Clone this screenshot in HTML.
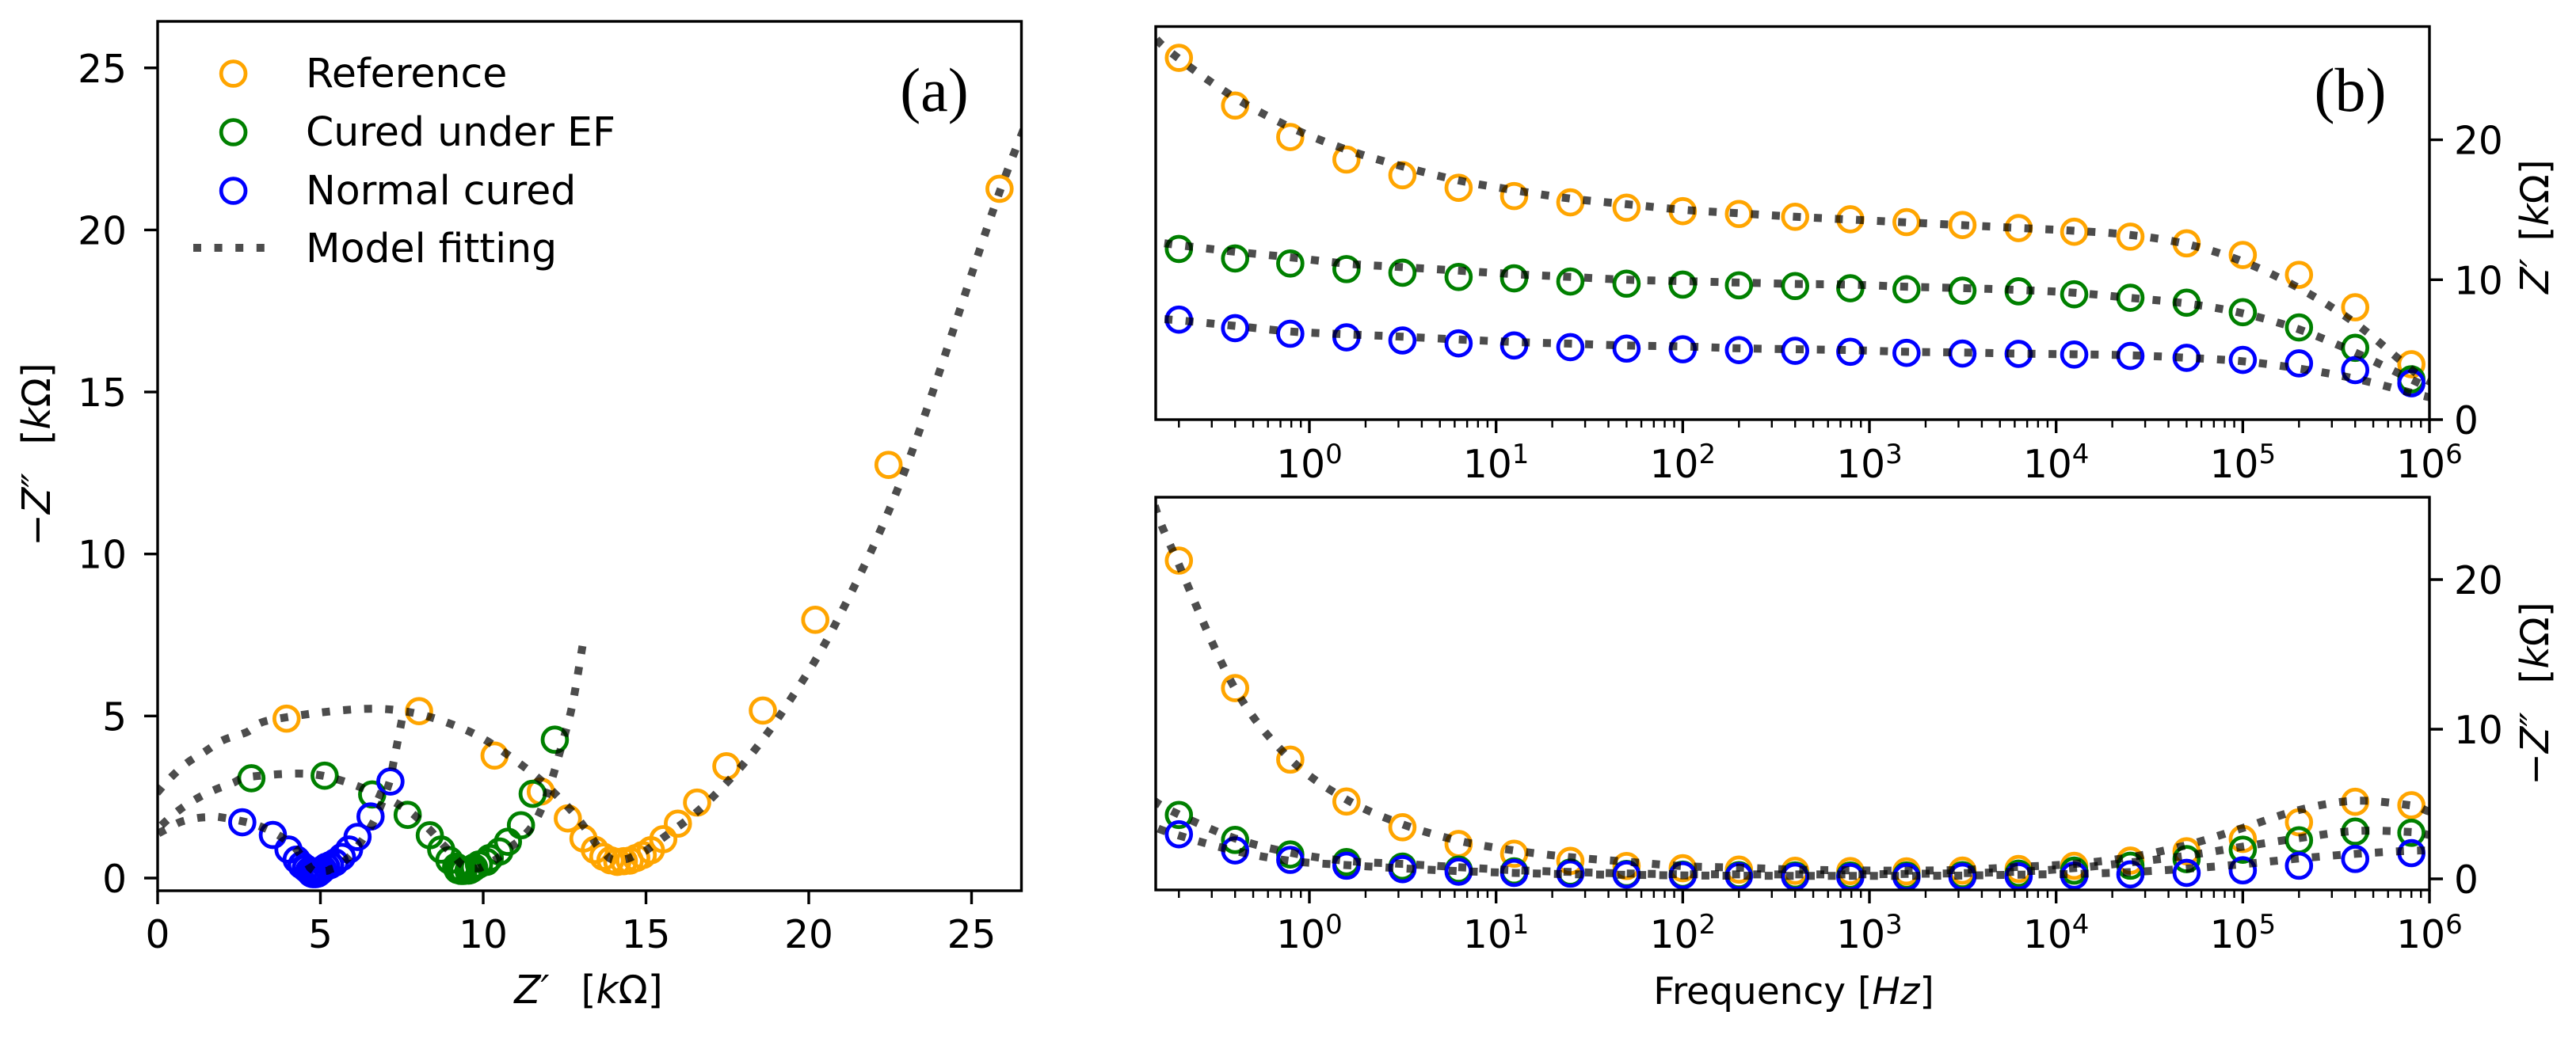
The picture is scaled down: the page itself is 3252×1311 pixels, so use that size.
<!DOCTYPE html>
<html lang="en">
<head>
<meta charset="utf-8">
<title>Impedance spectra: Nyquist and Bode plots</title>
<style>
html,body{margin:0;padding:0;background:#fff;}
svg{display:block;}
text{font-family:"DejaVu Sans","Liberation Sans",sans-serif;font-size:48.6px;fill:#000;}
#legend text{font-size:50.5px;}
</style>
</head>
<body>
<svg id="figure" xmlns="http://www.w3.org/2000/svg" width="3252" height="1311" viewBox="0 0 3252 1311">
<defs>
<clipPath id="clip-a"><rect x="199" y="27" width="1090.5" height="1098"/></clipPath>
<clipPath id="clip-b1"><rect x="1459" y="33.5" width="1608" height="496.5"/></clipPath>
<clipPath id="clip-b2"><rect x="1459" y="628" width="1608" height="496"/></clipPath>
</defs>
<g id="panel-a"></g>
<g id="panel-b1"></g>
<g id="panel-b2"></g>

<text x="743" y="1267" text-anchor="middle"><tspan font-style="italic">Z′</tspan><tspan dx="40">[</tspan><tspan font-style="italic">k</tspan>Ω]</text>
<text transform="translate(63,574) rotate(-90)" text-anchor="middle">−<tspan font-style="italic">Z″</tspan><tspan dx="36">[</tspan><tspan font-style="italic">k</tspan>Ω]</text>
<text transform="translate(3217,286) rotate(-90)" text-anchor="middle"><tspan font-style="italic">Z′</tspan><tspan dx="22">[</tspan><tspan font-style="italic">k</tspan>Ω]</text>
<text transform="translate(3217,876) rotate(-90)" text-anchor="middle">−<tspan font-style="italic">Z″</tspan><tspan dx="36">[</tspan><tspan font-style="italic">k</tspan>Ω]</text>
<text x="2264.5" y="1268" text-anchor="middle" style="font-size:47px">Frequency [<tspan font-style="italic">Hz</tspan>]</text>
<text x="1179.5" y="140" text-anchor="middle" style="font-family:'Liberation Serif',serif;font-size:78px">(a)</text>
<text x="2967" y="140" text-anchor="middle" style="font-family:'Liberation Serif',serif;font-size:78px">(b)</text>

<g id="legend">
<circle cx="294.6" cy="93" r="15.4" fill="none" stroke="orange" stroke-width="4.8"/>
<text x="386" y="110">Reference</text>
<circle cx="294.6" cy="167" r="15.4" fill="none" stroke="green" stroke-width="4.8"/>
<text x="386" y="184">Cured under EF</text>
<circle cx="294.6" cy="241" r="15.4" fill="none" stroke="blue" stroke-width="4.8"/>
<text x="386" y="258">Normal cured</text>
<line x1="244" y1="313" x2="336" y2="313" stroke="#000" stroke-opacity="0.7" stroke-width="10" stroke-dasharray="10 16.6"/>
<text x="386" y="331">Model fitting</text>
</g>
</svg>
<script>
// ---- measured data (k-ohm, Hz) ----
const freq = [0.2,0.4,0.79,1.58,3.15,6.3,12.5,25,50,100,200,400,790,1580,3150,6300,12500,25000,50000,100000,200000,400000,800000];

const refReal = [25.86,22.45,20.2,18.59,17.47,16.57,15.98,15.53,15.15,14.9,14.7,14.5,14.32,14.12,13.91,13.69,13.43,13.08,12.6,11.77,10.35,8.03,3.96];
const refImag = [21.27,12.75,7.97,5.17,3.45,2.33,1.68,1.2,0.86,0.71,0.62,0.54,0.52,0.5,0.55,0.66,0.87,1.22,1.84,2.67,3.78,5.15,4.92];

const efReal = [12.2,11.52,11.16,10.76,10.5,10.2,10.1,9.87,9.72,9.65,9.6,9.55,9.39,9.32,9.22,9.17,8.96,8.71,8.36,7.68,6.59,5.13,2.88];
const efImag = [4.27,2.6,1.63,1.12,0.82,0.62,0.5,0.42,0.33,0.28,0.25,0.23,0.22,0.22,0.25,0.35,0.55,0.88,1.32,1.95,2.58,3.16,3.08];

const normReal = [7.15,6.54,6.14,5.88,5.66,5.45,5.3,5.18,5.08,5.03,4.97,4.92,4.85,4.77,4.72,4.7,4.65,4.55,4.42,4.27,4.02,3.54,2.6];
const normImag = [2.98,1.9,1.27,0.88,0.65,0.48,0.4,0.35,0.28,0.23,0.18,0.14,0.12,0.12,0.14,0.17,0.22,0.3,0.4,0.57,0.88,1.33,1.72];

const fitFreq = [0.1,0.141,0.2,0.4,0.79,1.58,3.15,6.3,12.5,25,50,100,200,400,790,1580,3150,6300,12500,25000,50000,100000,200000,400000,800000,1000000,1400000,2000000,2800000,4000000,5600000,8000000];

const fitRefReal = [31,27.7,25.8,23,20.9,19.3,18.1,17.1,16.4,15.8,15.4,15,14.75,14.5,14.3,14.1,13.9,13.7,13.5,13.2,12.55,11.3,9.4,6.9,3.58,2.73,2,1.45,0.9,0.4,0,-0.4];
const fitRefImag = [36,26,21,12.7,8,5.3,3.65,2.55,1.9,1.45,1.15,0.85,0.75,0.62,0.57,0.55,0.6,0.8,1,1.45,2.25,3.4,4.6,5.22,4.9,4.5,4.25,3.9,3.55,3.1,2.65,2.2];

const fitEfReal = [13.05,12.75,12.47,12,11.6,11.15,10.9,10.65,10.4,10.2,10,9.9,9.8,9.7,9.65,9.5,9.4,9.27,9.07,8.7,8.3,7.6,6.45,4.8,2.87,2.3,1.7,1.2,0.65,0.14,-0.3,-0.7];
const fitEfImag = [7.16,5.4,4.3,2.7,1.75,1.2,1,0.78,0.58,0.46,0.36,0.31,0.3,0.3,0.3,0.33,0.38,0.48,0.72,1.1,1.55,2.15,2.72,3.2,3.13,2.93,2.7,2.45,2.09,1.65,1.2,0.8];

const fitNormReal = [7.5,7.25,7.1,6.7,6.3,6.1,5.93,5.73,5.55,5.43,5.3,5.23,5.1,5.03,4.97,4.85,4.8,4.72,4.67,4.6,4.42,4.17,3.65,2.93,1.92,1.6,1.2,0.7,0.25,-0.1,-0.5,-0.8];
const fitNormImag = [4.87,3.6,2.9,1.87,1.2,0.92,0.7,0.52,0.4,0.31,0.27,0.23,0.21,0.2,0.2,0.2,0.22,0.28,0.33,0.45,0.68,0.98,1.36,1.67,1.88,1.88,1.85,1.73,1.5,1.3,1,0.7];

// ---- tick definitions ----
const nyquistTicks = [0,5,10,15,20,25];
const bodeYTicks = [0,10,20];
const decades = [0,1,2,3,4,5,6];
const minorDecades = [-1,0,1,2,3,4,5];
const minorSteps = [2,3,4,5,6,7,8,9];

// ---- axis functions ----
function axX(v){return 199+41.1*v;}
function axY(v){return 1109-40.93*v;}
function bX(f){return 1653+235.67*Math.log10(f);}
function b1Y(v){return 530-17.67*v;}
function b2Y(v){return 1110-18.9*v;}

const NS = 'http://www.w3.org/2000/svg';
function make(tag, parent, attrs){
  const el = document.createElementNS(NS, tag);
  for (const k in attrs) el.setAttribute(k, attrs[k]);
  parent.appendChild(el);
  return el;
}
function smoothPath(pts){
  let d = 'M'+pts[0][0].toFixed(2)+' '+pts[0][1].toFixed(2);
  for (let i=0;i<pts.length-1;i++){
    const p0=pts[Math.max(i-1,0)],p1=pts[i],p2=pts[i+1],p3=pts[Math.min(i+2,pts.length-1)];
    const c1x=p1[0]+(p2[0]-p0[0])/6,c1y=p1[1]+(p2[1]-p0[1])/6;
    const c2x=p2[0]-(p3[0]-p1[0])/6,c2y=p2[1]-(p3[1]-p1[1])/6;
    d+=' C'+c1x.toFixed(2)+' '+c1y.toFixed(2)+' '+c2x.toFixed(2)+' '+c2y.toFixed(2)+' '+p2[0].toFixed(2)+' '+p2[1].toFixed(2);
  }
  return d;
}
function drawRings(parent, xs, ys, color, seriesName){
  const g = make('g', parent, {});
  
  
  xs.forEach(function(x,i){
    const c = make('circle', g, {cx:x.toFixed(2), cy:ys[i].toFixed(2), r:15.4, fill:'none', stroke:color, 'stroke-width':4.8});
    
    
  });
}
function drawFit(parent, xs, ys, fitName){
  const p = make('path', parent, {d:smoothPath(xs.map(function(x,i){return [x,ys[i]];})), fill:'none', stroke:'#000', 'stroke-opacity':0.7, 'stroke-width':10, 'stroke-dasharray':'10 16.6'});
  
  
}
function tick(parent,x1,y1,x2,y2,w){
  const l = make('line', parent, {x1:x1,y1:y1,x2:x2,y2:y2,stroke:'#000','stroke-width':w});
  
  
}
function label(parent,x,y,anchor,str){
  const t = make('text', parent, {x:x,y:y,'text-anchor':anchor});
  t.textContent = str;
  
  
  return t;
}
function frame(parent,x,y,w,h){
  const r = make('rect', parent, {x:x,y:y,width:w,height:h,fill:'none',stroke:'#000','stroke-width':3.4});
  
  
}

// ---- panel (a) ----
const pa = document.getElementById('panel-a');
const paData = make('g', pa, {'clip-path':'url(#clip-a)'});
drawRings(paData, refReal.map(axX), refImag.map(axY), 'orange', 'reference-points');
drawRings(paData, efReal.map(axX), efImag.map(axY), 'green', 'cured-under-ef-points');
drawRings(paData, normReal.map(axX), normImag.map(axY), 'blue', 'normal-cured-points');
drawFit(paData, fitRefReal.map(axX), fitRefImag.map(axY), 'reference-fit-line');
drawFit(paData, fitEfReal.map(axX), fitEfImag.map(axY), 'cured-under-ef-fit-line');
drawFit(paData, fitNormReal.map(axX), fitNormImag.map(axY), 'normal-cured-fit-line');
frame(pa,199,27,1090.5,1098);
nyquistTicks.forEach(function(v){
  tick(pa,axX(v),1125,axX(v),1142,3.4);
  label(pa,axX(v),1197,'middle',String(v));
  tick(pa,199,axY(v),182,axY(v),3.4);
  label(pa,160,axY(v)+18,'end',String(v));
});

// ---- panels (b) ----
function bodePanel(id,clip,yFn,top,bottom,re,ef,no,fRe,fEf,fNo,labelY){
  const p = document.getElementById(id);
  const d = make('g', p, {'clip-path':'url(#'+clip+')'});
  drawRings(d, freq.map(bX), re.map(yFn), 'orange', 'reference-points');
  drawRings(d, freq.map(bX), ef.map(yFn), 'green', 'cured-under-ef-points');
  drawRings(d, freq.map(bX), no.map(yFn), 'blue', 'normal-cured-points');
  drawFit(d, fitFreq.map(bX), fRe.map(yFn), 'reference-fit-line');
  drawFit(d, fitFreq.map(bX), fEf.map(yFn), 'cured-under-ef-fit-line');
  drawFit(d, fitFreq.map(bX), fNo.map(yFn), 'normal-cured-fit-line');
  frame(p,1459,top,1608,bottom-top);
  minorDecades.forEach(function(e){
    minorSteps.forEach(function(s){
      const x = bX(s*Math.pow(10,e));
      if (x>1459) tick(p,x,bottom,x,bottom+10,2.4);
    });
  });
  decades.forEach(function(e){
    const x = bX(Math.pow(10,e));
    tick(p,x,bottom,x,bottom+17,3.4);
    const t = label(p,x,labelY,'middle','10');
    const s = make('tspan', t, {dy:-18,'font-size':34});
    s.textContent = String(e);
  });
  bodeYTicks.forEach(function(v){
    tick(p,3067,yFn(v),3084,yFn(v),3.4);
    label(p,3098,yFn(v)+18,'start',String(v));
  });
}
bodePanel('panel-b1','clip-b1',b1Y,33.5,530,refReal,efReal,normReal,fitRefReal,fitEfReal,fitNormReal,603);
bodePanel('panel-b2','clip-b2',b2Y,628,1124,refImag,efImag,normImag,fitRefImag,fitEfImag,fitNormImag,1197);
</script>
</body>
</html>
